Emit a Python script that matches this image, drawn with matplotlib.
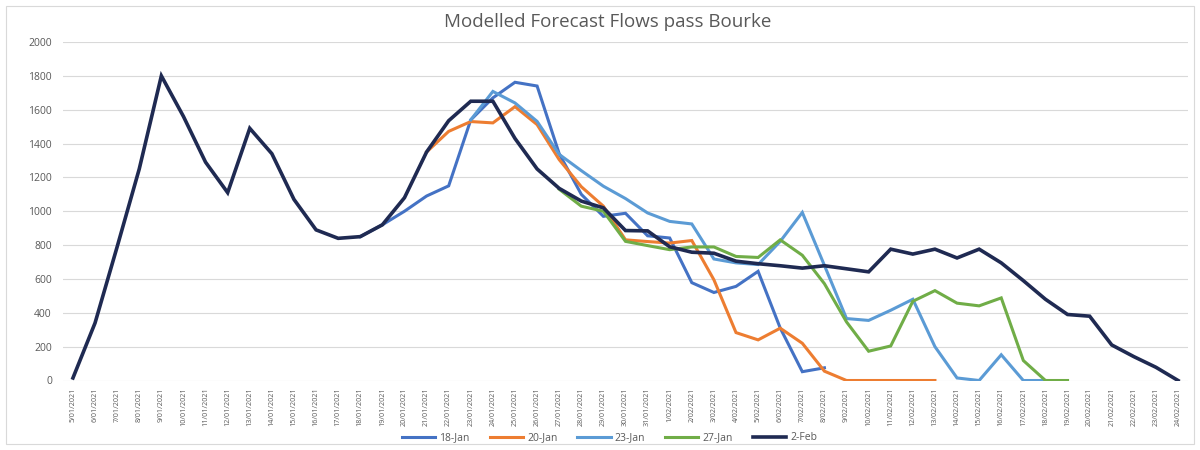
import numpy as np
import matplotlib
matplotlib.use("Agg")
import matplotlib.pyplot as plt
from matplotlib.patches import Rectangle

plt.rcParams['font.family'] = ['Open Sans', 'DejaVu Sans']

# Daily dates along the category axis
dates = [
    "5/01/2021", "6/01/2021", "7/01/2021", "8/01/2021", "9/01/2021",
    "10/01/2021", "11/01/2021", "12/01/2021", "13/01/2021", "14/01/2021",
    "15/01/2021", "16/01/2021", "17/01/2021", "18/01/2021", "19/01/2021",
    "20/01/2021", "21/01/2021", "22/01/2021", "23/01/2021", "24/01/2021",
    "25/01/2021", "26/01/2021", "27/01/2021", "28/01/2021", "29/01/2021",
    "30/01/2021", "31/01/2021", "1/02/2021", "2/02/2021", "3/02/2021",
    "4/02/2021", "5/02/2021", "6/02/2021", "7/02/2021", "8/02/2021",
    "9/02/2021", "10/02/2021", "11/02/2021", "12/02/2021", "13/02/2021",
    "14/02/2021", "15/02/2021", "16/02/2021", "17/02/2021", "18/02/2021",
    "19/02/2021", "20/02/2021", "21/02/2021", "22/02/2021", "23/02/2021",
    "24/02/2021",
]

N = None
# Forecast runs (flow, ML/day); None where a run has no value
jan18 = [N] * 13 + [850, 920, 1000, 1090, 1150, 1540, 1670, 1762, 1740, 1340,
                    1100, 970, 988, 855, 842, 578, 520, 556, 645, 310, 52, 75] + [N] * 16
jan20 = [N] * 16 + [1350, 1472, 1530, 1522, 1618, 1512, 1305, 1145, 1030, 831,
                    821, 812, 827, 595, 283, 240, 309, 220, 55, 0, 0, 0, 0, 0] + [N] * 11
jan23 = [N] * 18 + [1540, 1708, 1640, 1531, 1336, 1240, 1148, 1075, 990, 940,
                    925, 718, 695, 685, 822, 993, 680, 366, 355, 415, 480, 200,
                    15, 0, 152, 0, 0] + [N] * 6
jan27 = [N] * 22 + [1130, 1030, 1000, 822, 797, 773, 789, 789, 733, 727, 831,
                    740, 572, 346, 173, 204, 468, 531, 457, 441, 488, 118, 0, 0] + [N] * 5
feb02 = [15, 340, 790, 1250, 1800, 1560, 1290, 1110, 1490, 1340, 1070, 890,
         840, 850, 920, 1080, 1350, 1535, 1650, 1650, 1430, 1250, 1135, 1060,
         1020, 886, 884, 790, 758, 752, 705, 690, 678, 664, 678, 660, 642, 776,
         747, 776, 724, 776, 695, 590, 480, 390, 380, 210, 141, 78, 0]

series_names = ["18-Jan", "20-Jan", "23-Jan", "27-Jan", "2-Feb"]
series_values = [jan18, jan20, jan23, jan27, feb02]
series_colors = ["#4472C4", "#ED7D31", "#5B9BD5", "#70AD47", "#1F2A52"]
series_widths = [2.2, 2.2, 2.2, 2.2, 2.6]

y_ticks = list(range(0, 2001, 200))

fig = plt.figure(figsize=(12, 4.5), dpi=100)
fig.patch.set_facecolor("white")

# Chart-area border
fig.patches.append(Rectangle((6 / 1200, 6 / 450), 1188 / 1200, 438 / 450,
                             transform=fig.transFigure, fill=False,
                             edgecolor="#D9D9D9", linewidth=0.8))

ax = fig.add_axes([63 / 1200, 1 - 380.5 / 450, 1125 / 1200, 338.5 / 450])

x = np.arange(len(dates))
for name, vals, col, lw in zip(series_names, series_values, series_colors, series_widths):
    y = np.array([np.nan if v is None else v for v in vals], dtype=float)
    ax.plot(x, y, color=col, linewidth=lw, label=name, solid_joinstyle="miter")

ax.set_xlim(-0.45, len(dates) - 1 + 0.45)
ax.set_ylim(0, 2000)
ax.set_yticks(y_ticks)
ax.set_yticklabels([str(v) for v in y_ticks])
ax.set_xticks(x)
ax.set_xticklabels(dates, rotation=90)

ax.grid(axis="y", color="#D9D9D9", linewidth=0.8)
ax.set_axisbelow(True)
for s in ax.spines.values():
    s.set_visible(False)
ax.tick_params(axis="y", length=0, pad=8, labelsize=7.5, labelcolor="#595959")
ax.tick_params(axis="x", length=0, pad=5, labelsize=5.2, labelcolor="#595959")

fig.text(0.506, 1 - 22 / 450, "Modelled Forecast Flows pass Bourke",
         ha="center", va="center", fontsize=13.5, color="#595959")

leg = fig.legend(loc="center", bbox_to_anchor=(0.508, 1 - 438 / 450), ncol=5,
                 frameon=False, fontsize=7.5, handlelength=3.2, handletextpad=0.4,
                 columnspacing=1.9)
for t in leg.get_texts():
    t.set_color("#595959")

fig.savefig("out.png", dpi=100, facecolor="white")
